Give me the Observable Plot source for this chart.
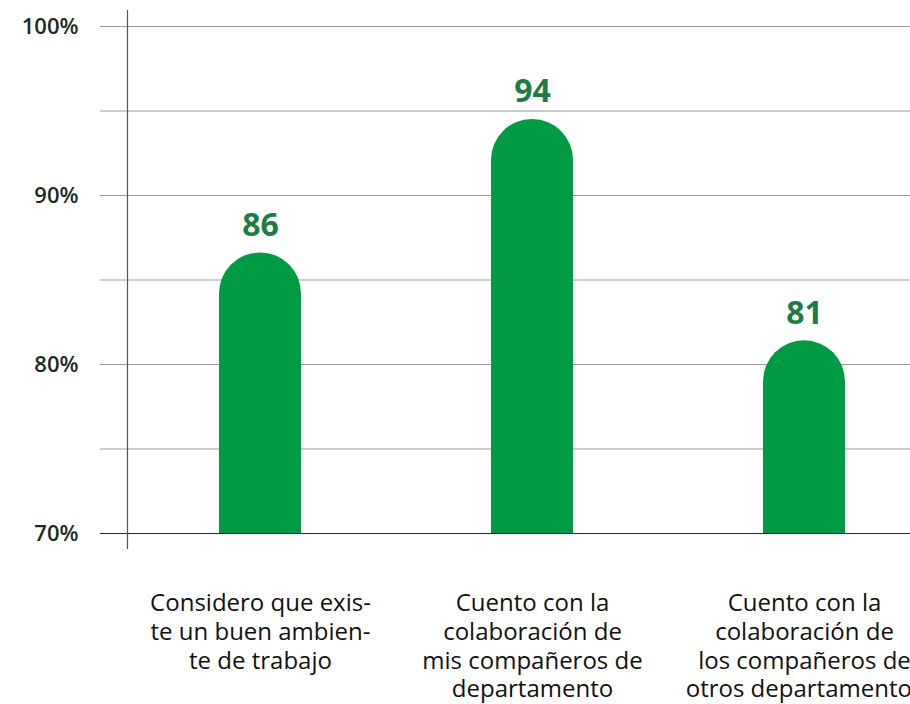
<!DOCTYPE html>
<html>
<head>
<meta charset="utf-8">
<script src="https://cdn.jsdelivr.net/npm/d3@7"></script>
<script src="https://cdn.jsdelivr.net/npm/@observablehq/plot@0.6"></script>
<style>
  body { margin: 0; background: #fff; }
  #chart { width: 910px; height: 704px; overflow: hidden; }
</style>
</head>
<body>
<div id="chart"></div>
<script>
const categories = [
  "Considero que exis-\nte un buen ambien-\nte de trabajo",
  "Cuento con la\ncolaboración de\nmis compañeros de\ndepartamento",
  "Cuento con la\ncolaboración de\nlos compañeros de\notros departamentos"
];
const values = [86.6, 94.5, 81.4];
const labels = ["86", "94", "81"];
const yTicks = [70, 75, 80, 85, 90, 95, 100];
const yTickLabels = [70, 80, 90, 100];

const data = categories.map((c, i) => ({cat: c, value: values[i], label: labels[i]}));
const baseline = 70;

const chart = Plot.plot({
  width: 910,
  height: 704,
  marginLeft: 127,
  marginRight: 0,
  marginTop: 26,
  marginBottom: 171,
  style: {fontFamily: "'Open Sans', sans-serif", background: "#fff"},
  x: {domain: categories, range: [27.4, 1035.7], padding: 0.7, axis: null},
  y: {domain: [70, 100], axis: null},
  marks: [
    Plot.ruleY(yTicks.filter(d => d !== baseline), {y: d => d, stroke: "#9a9a9a", strokeWidth: 1, insetLeft: -27}),
    Plot.axisY(yTickLabels, {
      tickSize: 0, tickPadding: 49, tickFormat: d => d + "%",
      fontSize: 22, fontWeight: 600, fill: "#1b2a1f", label: null
    }),
    Plot.barY(data, {x: "cat", y1: baseline, y2: "value", fill: "#009a44", rx: 41}),
    Plot.barY(data, {x: "cat", y1: baseline, y2: d => d.value - 4, fill: "#009a44"}),
    Plot.ruleY([baseline], {stroke: "#2a2a2a", strokeWidth: 1.2, insetLeft: -27}),
    Plot.frame({anchor: "left", stroke: "#555", strokeWidth: 1.2, insetTop: -16, insetBottom: -15}),
    Plot.text(data, {x: "cat", y: "value", text: "label", dy: -17, lineAnchor: "bottom",
      fontSize: 32, fontWeight: 700, fill: "#1e7b45"}),
    Plot.text(data, {x: "cat", y: baseline, text: "cat", dy: 57, lineAnchor: "top",
      lineHeight: 1.2, fontSize: 24, fill: "#111", textAnchor: "middle"})
  ]
});
document.getElementById("chart").appendChild(chart);
</script>
</body>
</html>
